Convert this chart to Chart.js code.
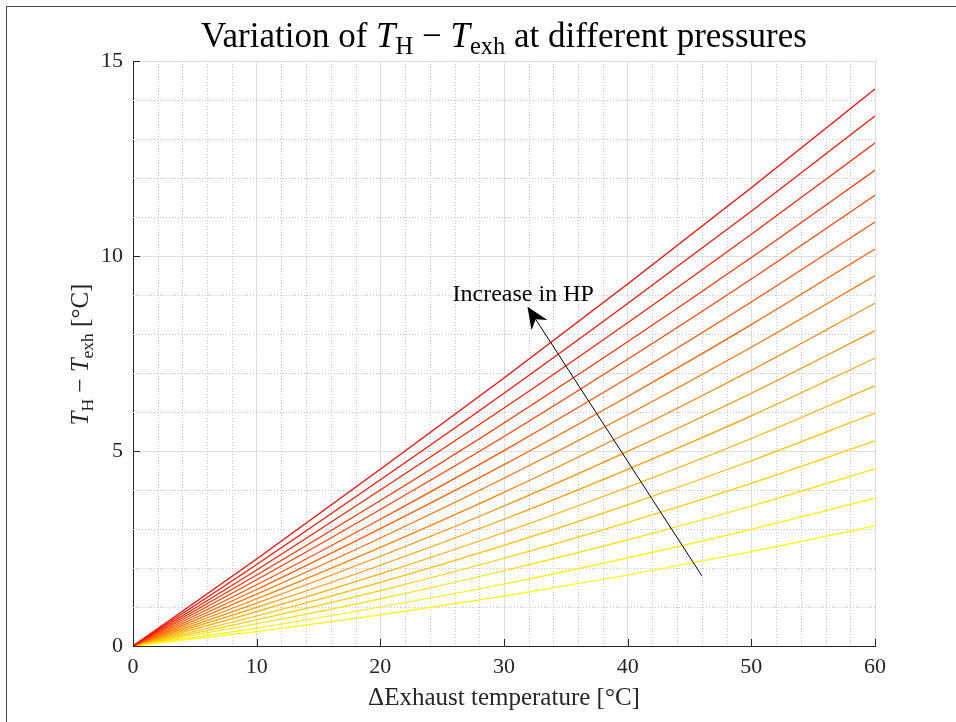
<!DOCTYPE html>
<html>
<head>
<meta charset="utf-8">
<script src="https://cdn.jsdelivr.net/npm/chart.js@4.4.1/dist/chart.umd.min.js"></script>
<style>
  html, body { margin: 0; padding: 0; background: #fff; }
  #wrap { position: relative; width: 956px; height: 722px; overflow: hidden; }
  #wrap canvas { position: absolute; left: 0; top: 0; }
  #frame { position: absolute; left: 6px; top: 6px; width: 1000px; height: 1000px;
           border: 1px solid #4a4a4a; box-sizing: border-box; pointer-events: none; }
</style>
</head>
<body>
<div id="wrap">
  <canvas id="chart" width="956" height="722"></canvas>
  <div id="frame"></div>
</div>
<script>
// T_H - T_exh vs ΔExhaust temperature, one curve per pressure level (top = highest HP)
const DX = [0, 10, 20, 30, 40, 50, 60];

const P01 = [0, 2.23, 4.53, 6.87, 9.28, 11.75, 14.28];
const P02 = [0, 2.09, 4.26, 6.48, 8.78, 11.15, 13.59];
const P03 = [0, 1.95, 4.00, 6.10, 8.29, 10.56, 12.90];
const P04 = [0, 1.82, 3.73, 5.72, 7.80, 9.96, 12.20];
const P05 = [0, 1.70, 3.50, 5.37, 7.35, 9.41, 11.56];
const P06 = [0, 1.57, 3.25, 5.01, 6.87, 8.82, 10.87];
const P07 = [0, 1.45, 3.01, 4.65, 6.40, 8.24, 10.18];
const P08 = [0, 1.33, 2.77, 4.30, 5.93, 7.66, 9.49];
const P09 = [0, 1.21, 2.53, 3.94, 5.46, 7.07, 8.79];
const P10 = [0, 1.10, 2.30, 3.59, 4.99, 6.48, 8.08];
const P11 = [0, 0.99, 2.07, 3.25, 4.53, 5.90, 7.38];
const P12 = [0, 0.88, 1.85, 2.91, 4.07, 5.32, 6.67];
const P13 = [0, 0.77, 1.63, 2.58, 3.62, 4.75, 5.97];
const P14 = [0, 0.67, 1.42, 2.25, 3.17, 4.17, 5.26];
const P15 = [0, 0.57, 1.21, 1.93, 2.72, 3.59, 4.54];
const P16 = [0, 0.46, 1.00, 1.59, 2.26, 2.99, 3.79];
const P17 = [0, 0.37, 0.80, 1.28, 1.82, 2.42, 3.08];

const SERIES = [P01, P02, P03, P04, P05, P06, P07, P08, P09, P10, P11, P12, P13, P14, P15, P16, P17];

const X_TICKS = [0, 10, 20, 30, 40, 50, 60];
const Y_TICKS = [0, 5, 10, 15];

// annotation arrow (data coords)
const ARROW_FROM = [46, 1.8];
const ARROW_TO   = [31.9, 8.7];
const ARROW_TEXT = 'Increase in HP';
const ARROW_TEXT_AT = [31.55, 8.85];

const SERIF = '"Liberation Serif", "DejaVu Serif", serif';
const AX = '#262626';

// autumn colormap: red -> yellow
const autumn = (i, n) => `rgb(255,${Math.round(255 * i / (n - 1))},0)`;

// rich text: parts with italic / subscript flags, centred on (x, y) baseline
function drawRich(ctx, parts, x, y, size, rot, color) {
  const fontOf = p => (p.i ? 'italic ' : '') + (p.sub ? size * 0.7 : size).toFixed(1) + 'px ' + SERIF;
  let w = 0;
  parts.forEach(p => { ctx.font = fontOf(p); p.w = ctx.measureText(p.t).width; w += p.w; });
  ctx.save();
  ctx.translate(x, y);
  if (rot) ctx.rotate(rot);
  ctx.fillStyle = color || '#000';
  ctx.textAlign = 'left';
  ctx.textBaseline = 'alphabetic';
  let cx = -w / 2;
  parts.forEach(p => {
    ctx.font = fontOf(p);
    ctx.fillText(p.t, cx, p.sub ? size * 0.2 : 0);
    cx += p.w;
  });
  ctx.restore();
}

// math part: T_H − T_exh
const DIFF = [
  { t: 'T', i: true }, { t: 'H', sub: true }, { t: ' \u2212 ' },
  { t: 'T', i: true }, { t: 'exh', sub: true },
];

const decorPlugin = {
  id: 'decor',
  beforeDatasetsDraw(chart) {
    const { ctx, chartArea: a, scales: { x, y } } = chart;
    // minor grid, dotted
    ctx.save();
    ctx.strokeStyle = '#c8c8c8';
    ctx.lineWidth = 1;
    ctx.setLineDash([1, 2]);
    ctx.beginPath();
    for (let v = 2; v < 60; v += 2) {
      if (v % 10 === 0) continue;
      const px = Math.round(x.getPixelForValue(v)) + 0.5;
      ctx.moveTo(px, a.top); ctx.lineTo(px, a.bottom);
    }
    for (let v = 1; v < 15; v++) {
      if (v % 5 === 0) continue;
      const py = Math.round(y.getPixelForValue(v)) + 0.5;
      ctx.moveTo(a.left, py); ctx.lineTo(a.right, py);
    }
    ctx.stroke();
    ctx.restore();
  },
  afterDatasetsDraw(chart) {
    const { ctx, chartArea: a, scales: { x, y } } = chart;
    ctx.save();
    // inside tick marks
    ctx.strokeStyle = AX;
    ctx.lineWidth = 1;
    ctx.beginPath();
    X_TICKS.forEach(v => {
      const px = Math.round(x.getPixelForValue(v)) + 0.5;
      ctx.moveTo(px, a.bottom); ctx.lineTo(px, a.bottom - 7);
    });
    Y_TICKS.forEach(v => {
      const py = Math.round(y.getPixelForValue(v)) + 0.5;
      ctx.moveTo(a.left, py); ctx.lineTo(a.left + 7, py);
    });
    ctx.stroke();

    // arrow
    const x0 = x.getPixelForValue(ARROW_FROM[0]), y0 = y.getPixelForValue(ARROW_FROM[1]);
    const x1 = x.getPixelForValue(ARROW_TO[0]),   y1 = y.getPixelForValue(ARROW_TO[1]);
    const len = Math.hypot(x1 - x0, y1 - y0);
    const ux = (x1 - x0) / len, uy = (y1 - y0) / len;
    const nx = -uy, ny = ux;
    const hl = 22, hw = 9.5, notch = 15;
    ctx.strokeStyle = '#000';
    ctx.lineWidth = 1;
    ctx.beginPath();
    ctx.moveTo(x0, y0);
    ctx.lineTo(x1 - ux * notch, y1 - uy * notch);
    ctx.stroke();
    ctx.fillStyle = '#000';
    ctx.beginPath();
    ctx.moveTo(x1, y1);
    ctx.lineTo(x1 - ux * hl + nx * hw, y1 - uy * hl + ny * hw);
    ctx.lineTo(x1 - ux * notch, y1 - uy * notch);
    ctx.lineTo(x1 - ux * hl - nx * hw, y1 - uy * hl - ny * hw);
    ctx.closePath();
    ctx.fill();

    ctx.font = '24px ' + SERIF;
    ctx.textAlign = 'center';
    ctx.textBaseline = 'alphabetic';
    ctx.fillText(ARROW_TEXT, x.getPixelForValue(ARROW_TEXT_AT[0]), y.getPixelForValue(ARROW_TEXT_AT[1]));
    ctx.restore();
  },
  afterDraw(chart) {
    const { ctx, chartArea: a } = chart;
    const cx = (a.left + a.right) / 2;
    // title
    drawRich(ctx, [{ t: 'Variation of ' }, ...DIFF.map(p => ({ ...p })), { t: ' at different pressures' }],
      cx, 47, 35, 0, '#000');
    // axis titles
    drawRich(ctx, [{ t: '\u0394Exhaust temperature [\u00B0C]' }], cx, 705, 25, 0, AX);
    drawRich(ctx, [...DIFF.map(p => ({ ...p })), { t: ' [\u00B0C]' }],
      88, (a.top + a.bottom) / 2 + 1, 25, -Math.PI / 2, AX);
  },
};

const datasets = SERIES.map((s, i) => ({
  data: DX.map((v, k) => ({ x: v, y: s[k] })),
  borderColor: autumn(i, SERIES.length),
  borderWidth: 1.2,
  pointRadius: 0,
  cubicInterpolationMode: 'monotone',
  fill: false,
}));

new Chart(document.getElementById('chart').getContext('2d'), {
  type: 'line',
  data: { datasets },
  plugins: [decorPlugin],
  options: {
    responsive: false,
    animation: false,
    devicePixelRatio: 1,
    layout: { padding: { top: 61, right: 81, left: 0, bottom: 0 } },
    plugins: { legend: { display: false }, tooltip: { enabled: false } },
    scales: {
      x: {
        type: 'linear', min: 0, max: 60,
        afterFit: s => { s.height = 76; },
        afterBuildTicks: s => { s.ticks = X_TICKS.map(v => ({ value: v })); },
        ticks: { color: AX, padding: 8, maxRotation: 0, font: { family: SERIF, size: 22 } },
        grid: { color: '#dedede', lineWidth: 1, drawTicks: false },
        border: { color: AX, width: 1 },
      },
      y: {
        type: 'linear', min: 0, max: 15,
        afterFit: s => { s.width = 133; },
        afterBuildTicks: s => { s.ticks = Y_TICKS.map(v => ({ value: v })); },
        ticks: { color: AX, padding: 10, font: { family: SERIF, size: 22 } },
        grid: { color: '#dedede', lineWidth: 1, drawTicks: false },
        border: { color: AX, width: 1 },
      },
    },
  },
});
</script>
</body>
</html>
